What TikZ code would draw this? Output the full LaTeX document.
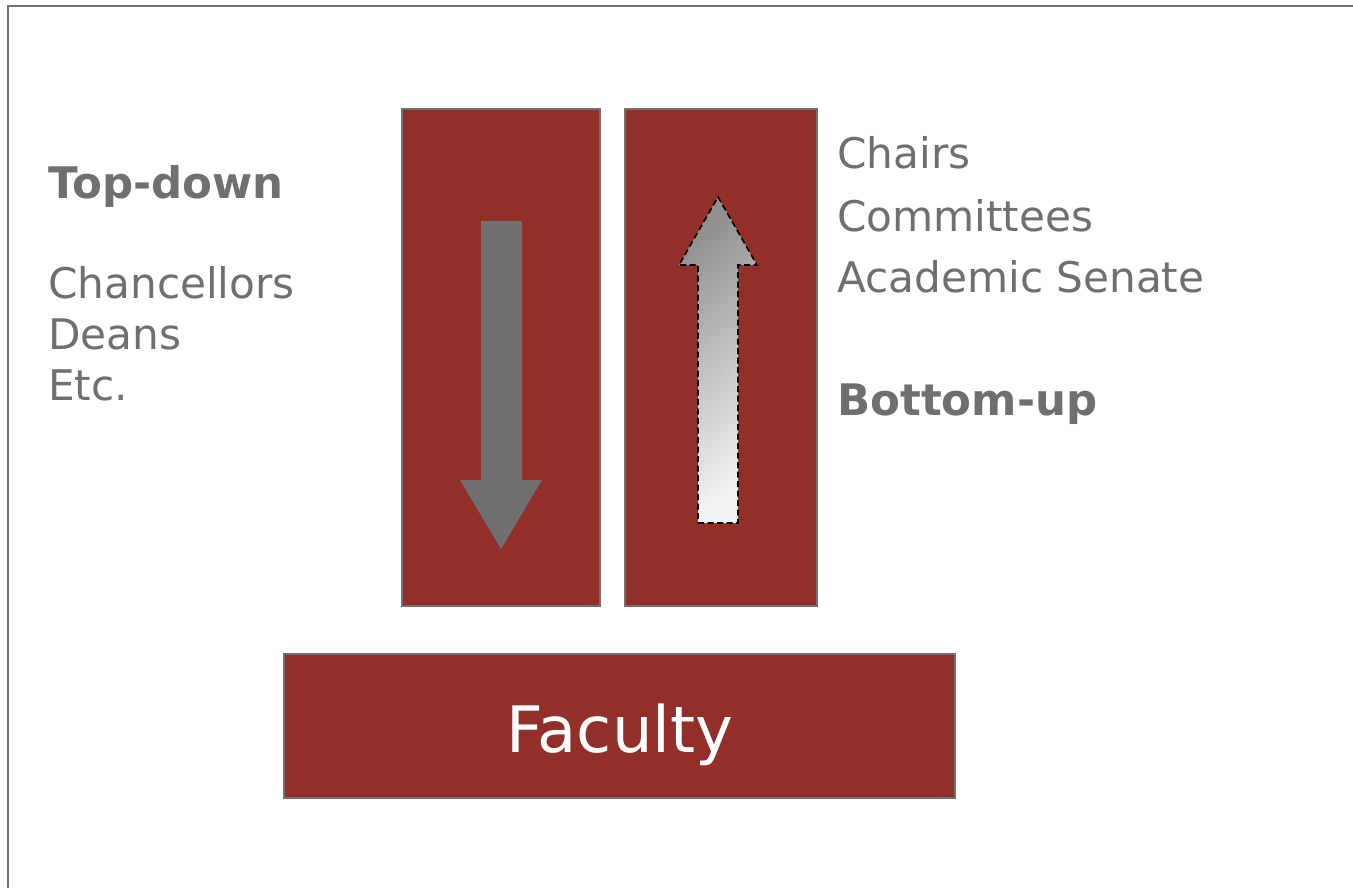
\documentclass[tikz,border=0pt]{standalone}
\usepackage{fontspec}
\setmainfont{DejaVu Sans}
\definecolor{boxred}{RGB}{146,47,40}
\definecolor{txtgray}{RGB}{111,111,111}
\definecolor{edgegray}{RGB}{112,112,112}
\begin{document}
\begin{tikzpicture}[x=1pt,y=-1pt,
  redbox/.style={draw=edgegray,line width=1.3pt,fill=boxred},
  lbl/.style={anchor=base west,inner sep=0pt,text=txtgray,font=\fontsize{42.2}{50}\selectfont},
  blbl/.style={lbl,font=\fontsize{43.5}{50}\selectfont\bfseries}]
\useasboundingbox (0,0) rectangle (1353,888);
% frame (top and left edges visible)
\draw[edgegray,line width=2pt] (8,888) -- (8,6) -- (1353,6);
% boxes
\path[redbox] (402,109) rectangle (600,606);
\path[redbox] (625,109) rectangle (817,606);
\node[redbox,minimum width=671pt,minimum height=144pt,inner sep=0pt] (faculty) at (619.5,726) {};
\node[anchor=base,inner sep=0pt,text=white,font=\fontsize{64}{70}\selectfont] (facultytext) at (620,752) {Faculty};
% down arrow
\fill[edgegray] (481,221) -- (522,221) -- (522,480) -- (542,480) -- (501,549)
  -- (460,480) -- (481,480) -- cycle;
% up arrow
\shadedraw[draw=black,line width=1.6pt,dash pattern=on 6pt off 3.5pt,
  top color=gray!85!black!75,bottom color=white!95!black,shading angle=40]
  (698,523) -- (738,523) -- (738,265) -- (757,265) -- (718,197) -- (679,265)
  -- (698,265) -- cycle;
% left texts
\node[blbl] (topdown) at (48,198) {Top-down};
\node[lbl] (chanc) at (48,298) {Chancellors};
\node[lbl] (deans) at (48,349) {Deans};
\node[lbl] (etc) at (48,400) {Etc.};
% right texts
\node[lbl] (chairs) at (837,169) {Chairs};
\node[lbl] (comm) at (837,231) {Committees};
\node[lbl] (senate) at (837,292) {Academic Senate};
\node[blbl] (bottomup) at (837,415) {Bottom-up};
\end{tikzpicture}
\end{document}
